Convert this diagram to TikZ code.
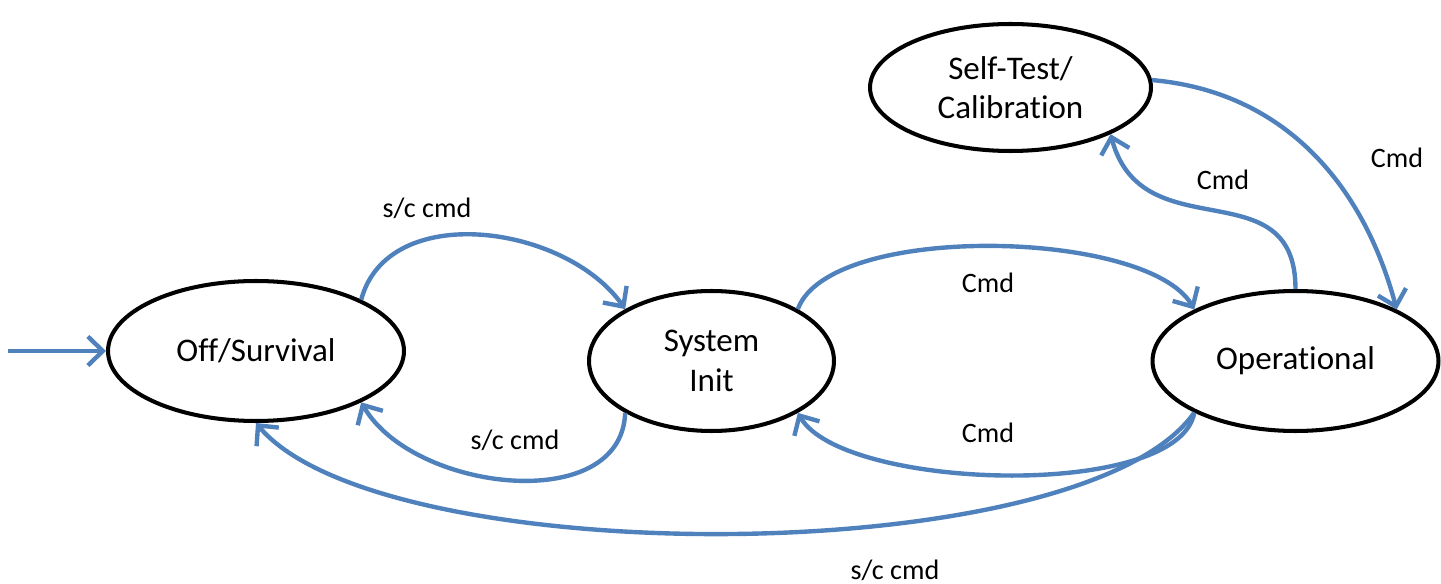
\documentclass[tikz,border=0pt]{standalone}
\usepackage{fontspec}
\setmainfont{Carlito}[Ligatures=NoCommon]
\usetikzlibrary{shapes.geometric, arrows.meta, positioning}
\definecolor{linkblue}{RGB}{79, 129, 189}
\tikzset{
    state/.style={ellipse, draw=black, line width=2.3pt, fill=white, inner sep=0pt, align=center, font=\fontsize{18.8}{22.5}\selectfont},
    trans/.style={line width=2.5pt, draw=linkblue, -{Straight Barb[length=3mm,width=5.8mm]}},
    lbl/.style={font=\fontsize{16}{19}\selectfont, inner sep=0pt}
}

\begin{document}
\begin{tikzpicture}[x=0.02cm, y=0.02cm]
    \useasboundingbox (0,0) rectangle (1441,-584);

    % States
    \node[state, minimum width=5.92cm, minimum height=2.8cm] (off) at (256,-351) {Off/Survival};
    \node[state, minimum width=4.9cm, minimum height=2.8cm] (init) at (711.5,-361) {System\\Init};
    \node[state, minimum width=5.72cm, minimum height=2.8cm] (oper) at (1295.5,-361) {Operational};
    \node[state, minimum width=5.62cm, minimum height=2.54cm] (selftest) at (1010.5,-87.5) {Self-Test/\\Calibration};

    % Entry
    \coordinate (entry) at (8,-351);
    \draw[trans] (entry) -- (off.west);

    % Transitions
    \draw[trans] (off.26) to[out=75, in=125] (init.149);
    \draw[trans] (init.211) to[out=-92, in=-60] (off.334);
    \draw[trans] (init.31) to[out=70, in=120, looseness=0.6] (oper.153);
    \draw[trans] (oper.207) to[out=-100, in=-60, looseness=0.58] (init.329);
    \draw[trans] (oper.207) to[out=-125, in=-50, looseness=0.53] (off.270);
    \draw[trans] (oper.90) to[out=90, in=-75, looseness=1.3] (selftest.335);
    \draw[trans] (selftest.3) to[out=-5, in=105] (oper.27);

    % Labels
    \node[lbl] (l1) at (427,-208) {s/c cmd};
    \node[lbl] (l2) at (515,-440) {s/c cmd};
    \node[lbl] (l3) at (988,-283) {Cmd};
    \node[lbl] (l4) at (988,-433) {Cmd};
    \node[lbl] (l5) at (895,-570) {s/c cmd};
    \node[lbl] (l6) at (1223,-180) {Cmd};
    \node[lbl] (l7) at (1397,-158) {Cmd};
\end{tikzpicture}
\end{document}
